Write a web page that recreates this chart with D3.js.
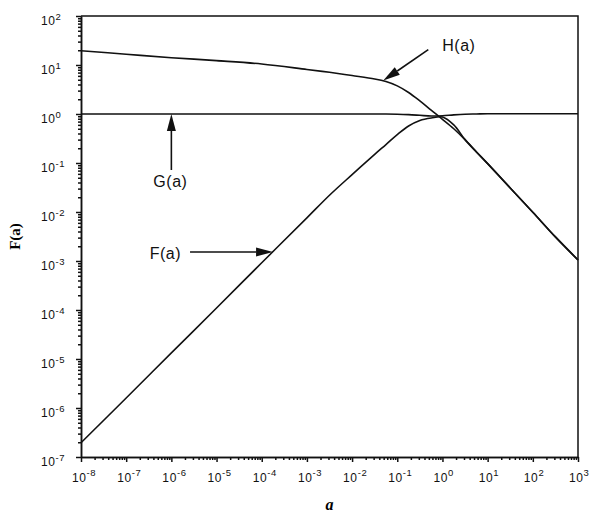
<!DOCTYPE html>
<html>
<head>
<meta charset="utf-8">
<script src="https://cdn.jsdelivr.net/npm/d3@7"></script>
<style>
  body { margin: 0; background: #fff; }
  .lbl { font-family: "Liberation Sans", Arial, Helvetica, sans-serif; fill: #111; }
  .axis path, .axis line { stroke: #111; stroke-width: 1.5; }
</style>
</head>
<body>
<script>

// values (a on x, value on y)
var aValues = [1e-8, 1e-7, 1e-6, 1e-5, 1e-4, 1e-3, 3.16e-3, 1e-2, 3.16e-2, 0.0562, 0.1, 0.178, 0.316, 0.562, 1, 1.78, 3.16, 5.62, 10, 31.6, 100, 316, 1000];
var hValues = [19.6, 16.6, 14.1, 12.3, 10.5, 8.1, 7.1, 6.1, 5.2, 4.6, 3.75, 2.75, 1.85, 1.2, 0.78, 0.5, 0.30, 0.17, 0.097, 0.031, 0.0099, 0.0031, 0.00105];
var gValues = [1, 1, 1, 1, 1, 1, 1, 1, 1, 1, 0.99, 0.97, 0.94, 0.91, 0.92, 0.96, 0.99, 1.0, 1.01, 1.01, 1.01, 1.01, 1.01];
var fValues = [1.95e-7, 1.6e-6, 1.33e-5, 1.1e-4, 9.2e-4, 7.6e-3, 0.022, 0.058, 0.150, 0.238, 0.38, 0.57, 0.74, 0.83, 0.87, 0.6, 0.30, 0.168, 0.097, 0.031, 0.0099, 0.0031, 0.00105];

var xExponents = [-8, -7, -6, -5, -4, -3, -2, -1, 0, 1, 2, 3];
var yExponents = [2, 1, 0, -1, -2, -3, -4, -5, -6, -7];

// annotation anchors on the curves
var notes = [
  {name: "H(a)", a: 0.049, v: 4.8, dx: 45, dy: -31, tx: 59, ty: -30, anchor: "start"},
  {name: "G(a)", a: 1e-6, v: 1, dx: 0, dy: 56, tx: -1, ty: 73, anchor: "middle"},
  {name: "F(a)", a: 1.78e-4, v: 1.53e-3, dx: -83, dy: 0, tx: -92, ty: 7, anchor: "end"}
];

var margin = {top: 16, left: 81},
    width = 497,
    height = 441;

var svg = d3.select("body").append("svg").attr("width", 591).attr("height", 514);
var g = svg.append("g").attr("transform", "translate(" + margin.left + "," + margin.top + ")");

var x = d3.scaleLog().domain([1e-8, 1e3]).range([0, width]);
var y = d3.scaleLog().domain([1e-7, 1e2]).range([height, 0]);

//////////// AXES ////////////

function minors(lo, hi) {
  var out = [];
  for (var e = lo; e < hi; e++)
    for (var k = 2; k <= 9; k++) out.push(k * Math.pow(10, e));
  return out;
}

var xMajor = xExponents.map(function(e) { return Math.pow(10, e); });
var yMajor = yExponents.map(function(e) { return Math.pow(10, e); });

g.append("g").attr("class", "axis").attr("transform", "translate(0," + height + ")")
  .call(d3.axisBottom(x).tickValues(minors(-8, 3)).tickSize(3).tickSizeOuter(0).tickFormat(""));
g.append("g").attr("class", "axis").attr("transform", "translate(0," + height + ")")
  .call(d3.axisBottom(x).tickValues(xMajor).tickSize(5).tickSizeOuter(0).tickFormat(""));
g.append("g").attr("class", "axis")
  .call(d3.axisLeft(y).tickValues(minors(-7, 2)).tickSize(3).tickSizeOuter(0).tickFormat(""));
g.append("g").attr("class", "axis")
  .call(d3.axisLeft(y).tickValues(yMajor).tickSize(5).tickSizeOuter(0).tickFormat(""));

// frame top and right
g.append("path")
  .attr("d", "M0,0H" + width + "V" + height)
  .attr("fill", "none").attr("stroke", "#111").attr("stroke-width", 1.5);

// tick labels as 10 with a raised exponent
var xl = g.selectAll(".xl").data(xExponents).enter().append("text")
  .attr("class", "lbl")
  .attr("x", function(e) { return x(Math.pow(10, e)) - 9; })
  .attr("y", height + 25)
  .style("font-size", "12px").style("letter-spacing", "0.6px");
xl.append("tspan").text("10");
xl.append("tspan").attr("dy", -6).style("font-size", "9.5px").text(function(e) { return e; });

var yl = g.selectAll(".yl").data(yExponents).enter().append("text")
  .attr("class", "lbl")
  .attr("x", -40)
  .attr("y", function(e) { return y(Math.pow(10, e)) + 9; })
  .style("font-size", "12px").style("letter-spacing", "0.6px");
yl.append("tspan").text("10");
yl.append("tspan").attr("dy", -5.5).style("font-size", "9.5px").text(function(e) { return e; });

// axis titles
svg.append("text")
  .attr("transform", "translate(20," + (margin.top + height / 2) + ") rotate(-90)")
  .attr("text-anchor", "middle")
  .style("font-family", "'Liberation Serif', 'Times New Roman', serif")
  .style("font-weight", "bold").style("font-size", "15px")
  .text("F(a)");
svg.append("text")
  .attr("x", margin.left + width / 2).attr("y", 510)
  .attr("text-anchor", "middle")
  .style("font-family", "'Liberation Serif', 'Times New Roman', serif")
  .style("font-weight", "bold").style("font-style", "italic").style("font-size", "16px")
  .text("a");

//////////// CURVES ////////////

var line = d3.line()
  .x(function(d) { return x(d[0]); })
  .y(function(d) { return y(d[1]); })
  .curve(d3.curveCatmullRom.alpha(0.5));

[hValues, gValues, fValues].forEach(function(vals) {
  g.append("path")
    .datum(d3.zip(aValues, vals))
    .attr("d", line)
    .attr("fill", "none")
    .attr("stroke", "#111")
    .attr("stroke-width", 1.6);
});

//////////// ANNOTATIONS ////////////

notes.forEach(function(n) {
  var tipX = x(n.a), tipY = y(n.v);
  var ang = Math.atan2(n.dy, n.dx);
  var len = 17, half = 4.5;
  var bx = tipX + len * Math.cos(ang), by = tipY + len * Math.sin(ang);
  var px = -Math.sin(ang) * half, py = Math.cos(ang) * half;

  g.append("line")
    .attr("x1", bx).attr("y1", by)
    .attr("x2", tipX + n.dx).attr("y2", tipY + n.dy)
    .attr("stroke", "#111").attr("stroke-width", 1.6);
  g.append("path")
    .attr("d", "M" + tipX + "," + tipY + "L" + (bx + px) + "," + (by + py) + "L" + (bx - px) + "," + (by - py) + "Z")
    .attr("fill", "#111");
  g.append("text")
    .attr("class", "lbl")
    .attr("x", tipX + n.tx).attr("y", tipY + n.ty)
    .attr("text-anchor", n.anchor)
    .style("font-size", "16px").style("letter-spacing", "0.5px")
    .text(n.name);
});

</script>
</body>
</html>
